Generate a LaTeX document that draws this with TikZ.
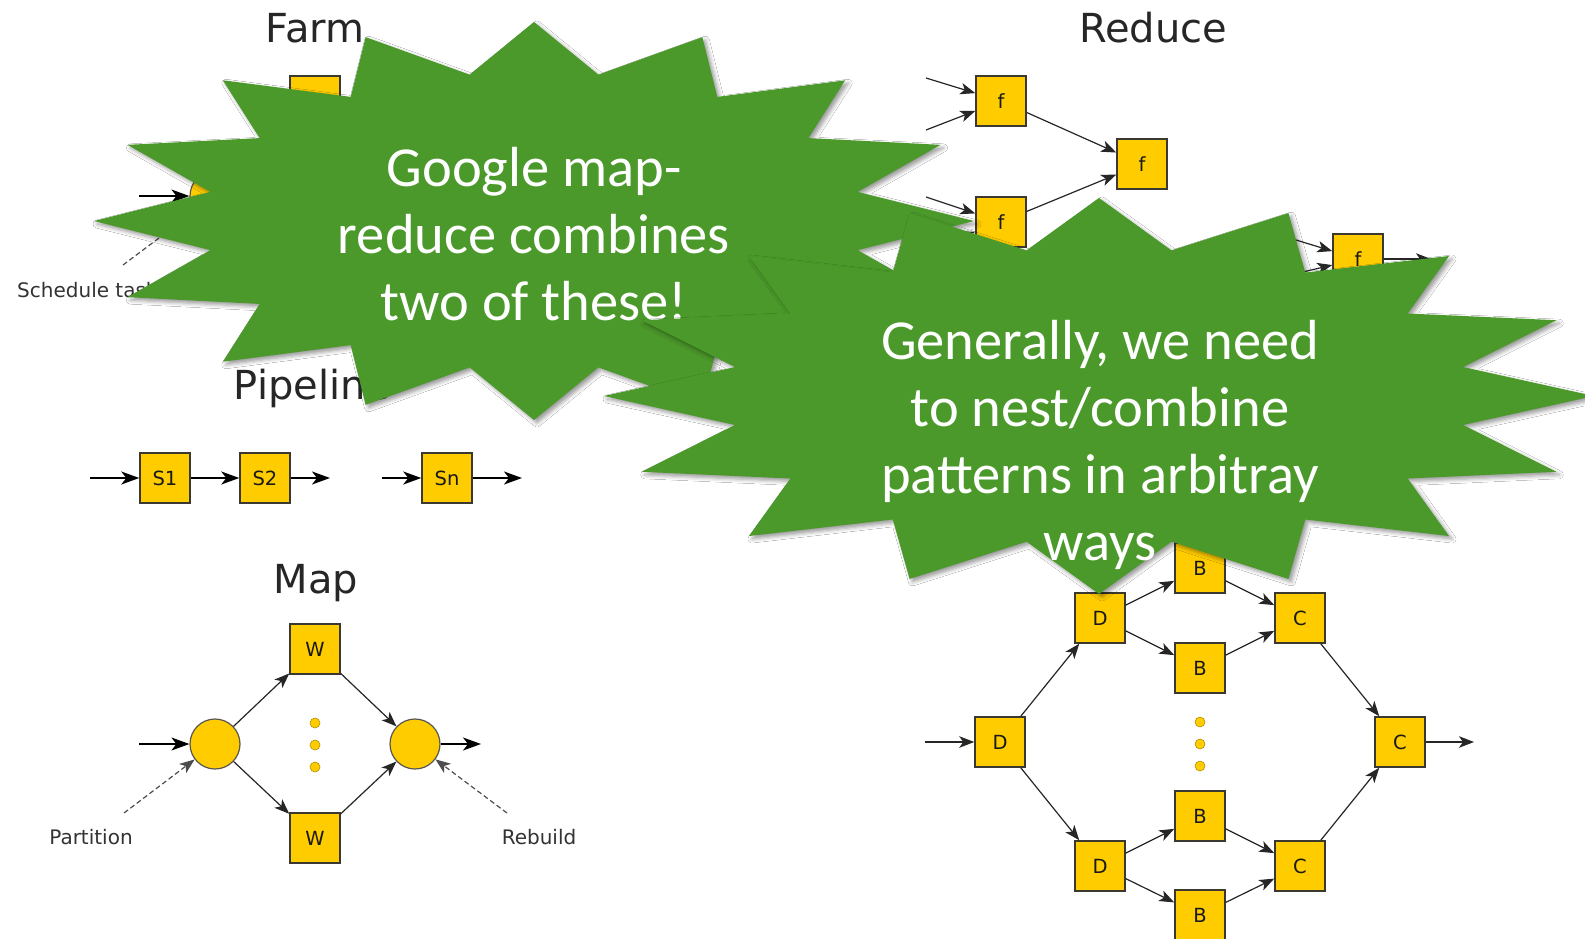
\documentclass[tikz,border=0pt]{standalone}
\usepackage{fontspec}
\setmainfont{DejaVu Sans}
\newfontfamily\burstfont{Carlito}
\usetikzlibrary{arrows.meta,shadows.blur}

\definecolor{burstgreen}{RGB}{75,153,42}
\definecolor{boxyellow}{RGB}{255,204,0}
\definecolor{boxedge}{RGB}{58,56,48}

\tikzset{
  stage/.style={rectangle, draw=boxedge, line width=1.5pt, fill=boxyellow,
    minimum width=50pt, minimum height=50pt, inner sep=0pt,
    font=\fontsize{19.5}{21}\selectfont, text=black!90},
  joint/.style={circle, draw=boxedge!85, line width=1.2pt, fill=boxyellow,
    minimum size=50pt, inner sep=0pt},
  dot/.style={circle, fill=boxyellow, draw=boxyellow!70!black, line width=0.6pt,
    minimum size=10pt, inner sep=0pt},
  title/.style={font=\fontsize{40}{46}\selectfont, text=black!85, inner sep=0pt, anchor=base},
  note/.style={font=\fontsize{20}{23}\selectfont, text=black!80, inner sep=0pt},
  flow/.style={line width=1.5pt, -{Stealth[length=18pt,width=13pt,inset=5pt]}},
  thinflow/.style={line width=1.2pt, draw=black!85,
    -{Stealth[length=15pt,width=11.5pt,inset=4pt]}},
  hint/.style={line width=1.2pt, draw=black!70, dash pattern=on 5pt off 3pt,
    -{Stealth[length=15pt,width=11.5pt,inset=4pt]}},
  burst/.style={fill=burstgreen, blur shadow={shadow xshift=3pt, shadow yshift=-3pt,
    shadow blur radius=4pt, shadow opacity=40}},
  bursttext/.style={font=\burstfont\fontsize{56.5}{67}\selectfont, text=white,
    align=center, inner sep=0pt},
}

% 16-point burst: centre (#1,#2), outer radii #3 x #4, inner radii at 75%
\newcommand\sixteenburst[4]{%
  \fill[burst] plot[samples at={0,...,31}, variable=\k]
    ({#1+(1-0.25*mod(\k,2))*#3*cos(90+11.25*\k)},
     {#2-(1-0.25*mod(\k,2))*#4*sin(90+11.25*\k)}) -- cycle;
}

\begin{document}
\begin{tikzpicture}[x=1pt,y=-1pt]
\useasboundingbox (0,0) rectangle (1585,938);
\fill[white] (0,0) rectangle (1585,938);
\clip (0,0) rectangle (1585,938);

% ---------- Farm ----------
\node[title] (farmT) at (315,42) {Farm};
\node[stage] (fw) at (315,101) {W};
\node[joint] (fsplit) at (215,196) {};
\coordinate (fin) at (139,196);
\draw[flow] (fin) -- (fsplit);
\node[note, anchor=base west] (sched) at (17,297) {Schedule tasks};
\coordinate (schedtip) at (123,265);
\draw[hint] (schedtip) -- (fsplit);

% ---------- Pipeline ----------
\node[title] (pipeT) at (312,399) {Pipeline};
\node[stage] (s1) at (165,478) {S1};
\node[stage] (s2) at (265,478) {S2};
\node[stage] (sn) at (447,478) {Sn};
\coordinate (pin) at (90,478);
\coordinate (pmid) at (330,478);
\coordinate (pmidb) at (382,478);
\coordinate (pout) at (522,478);
\draw[flow] (pin) -- (s1);
\draw[flow] (s1) -- (s2);
\draw[flow] (s2) -- (pmid);
\draw[flow] (pmidb) -- (sn);
\draw[flow] (sn) -- (pout);

% ---------- Map ----------
\node[title] (mapT) at (316,593) {Map};
\node[stage] (mwa) at (315,649) {W};
\node[stage] (mwb) at (315,838) {W};
\node[joint] (msplit) at (215,744) {};
\node[joint] (mjoin) at (415,744) {};
\node[dot] (md1) at (315,723) {};
\node[dot] (md2) at (315,745) {};
\node[dot] (md3) at (315,767) {};
\coordinate (min) at (139,744);
\coordinate (mout) at (481,744);
\draw[flow] (min) -- (msplit);
\draw[flow] (mjoin) -- (mout);
\draw[thinflow] (msplit) -- (mwa);
\draw[thinflow] (msplit) -- (mwb);
\draw[thinflow] (mwa) -- (mjoin);
\draw[thinflow] (mwb) -- (mjoin);
\node[note] (part) at (91,837) {Partition};
\node[note] (rebuild) at (539,837) {Rebuild};
\coordinate (parttip) at (124,813);
\coordinate (rebtip) at (507,813);
\draw[hint] (parttip) -- (msplit);
\draw[hint] (rebtip) -- (mjoin);

% ---------- Reduce ----------
\node[title] (redT) at (1153,42) {Reduce};
\node[stage] (f1) at (1001,101) {f};
\node[stage] (f2) at (1142,164) {f};
\node[stage] (f3) at (1001,222) {f};
\node[stage] (f4) at (1358,259) {f};
\coordinate (r1a) at (926,78);
\coordinate (r1b) at (926,130);
\coordinate (r3a) at (926,197);
\coordinate (r3b) at (926,250);
\coordinate (r4a) at (1270,232);
\coordinate (r4b) at (1290,275);
\coordinate (r4out) at (1431,259);
\draw[thinflow] (r1a) -- (f1);
\draw[thinflow] (r1b) -- (f1);
\draw[thinflow] (r3a) -- (f3);
\draw[thinflow] (r3b) -- (f3);
\draw[thinflow] (f1) -- (f2);
\draw[thinflow] (f3) -- (f2);
\draw[thinflow] (r4a) -- (f4);
\draw[thinflow] (r4b) -- (f4);
\draw[thinflow] (f4) -- (r4out);

% ---------- Nested divide / combine ----------
\node[stage] (d0) at (1000,742) {D};
\node[stage] (d1) at (1100,618) {D};
\node[stage] (d2) at (1100,866) {D};
\node[stage] (b1) at (1200,568) {B};
\node[stage] (b2) at (1200,668) {B};
\node[stage] (b3) at (1200,816) {B};
\node[stage] (b4) at (1200,915) {B};
\node[stage] (c1) at (1300,618) {C};
\node[stage] (c2) at (1300,866) {C};
\node[stage] (c3) at (1400,742) {C};
\node[dot] (nd1) at (1200,722) {};
\node[dot] (nd2) at (1200,744) {};
\node[dot] (nd3) at (1200,766) {};
\coordinate (nin) at (925,742);
\coordinate (nout) at (1474,742);
\draw[thinflow] (nin) -- (d0);
\draw[thinflow] (d0) -- (d1);
\draw[thinflow] (d0) -- (d2);
\draw[thinflow] (d1) -- (b1);
\draw[thinflow] (d1) -- (b2);
\draw[thinflow] (d2) -- (b3);
\draw[thinflow] (d2) -- (b4);
\draw[thinflow] (b1) -- (c1);
\draw[thinflow] (b2) -- (c1);
\draw[thinflow] (b3) -- (c2);
\draw[thinflow] (b4) -- (c2);
\draw[thinflow] (c1) -- (c3);
\draw[thinflow] (c2) -- (c3);
\draw[thinflow] (c3) -- (nout);

% ---------- Call-out bursts ----------
\sixteenburst{534}{221}{440}{199}
\node[bursttext] (burstA) at (534,234) {Google map-\\reduce combines\\two of these!};

\sixteenburst{1099}{396}{495}{198}
\node[bursttext] (burstB) at (1100,445) {Generally, we need\\to nest/combine\\patterns in arbitray\\ways};

\end{tikzpicture}
\end{document}
